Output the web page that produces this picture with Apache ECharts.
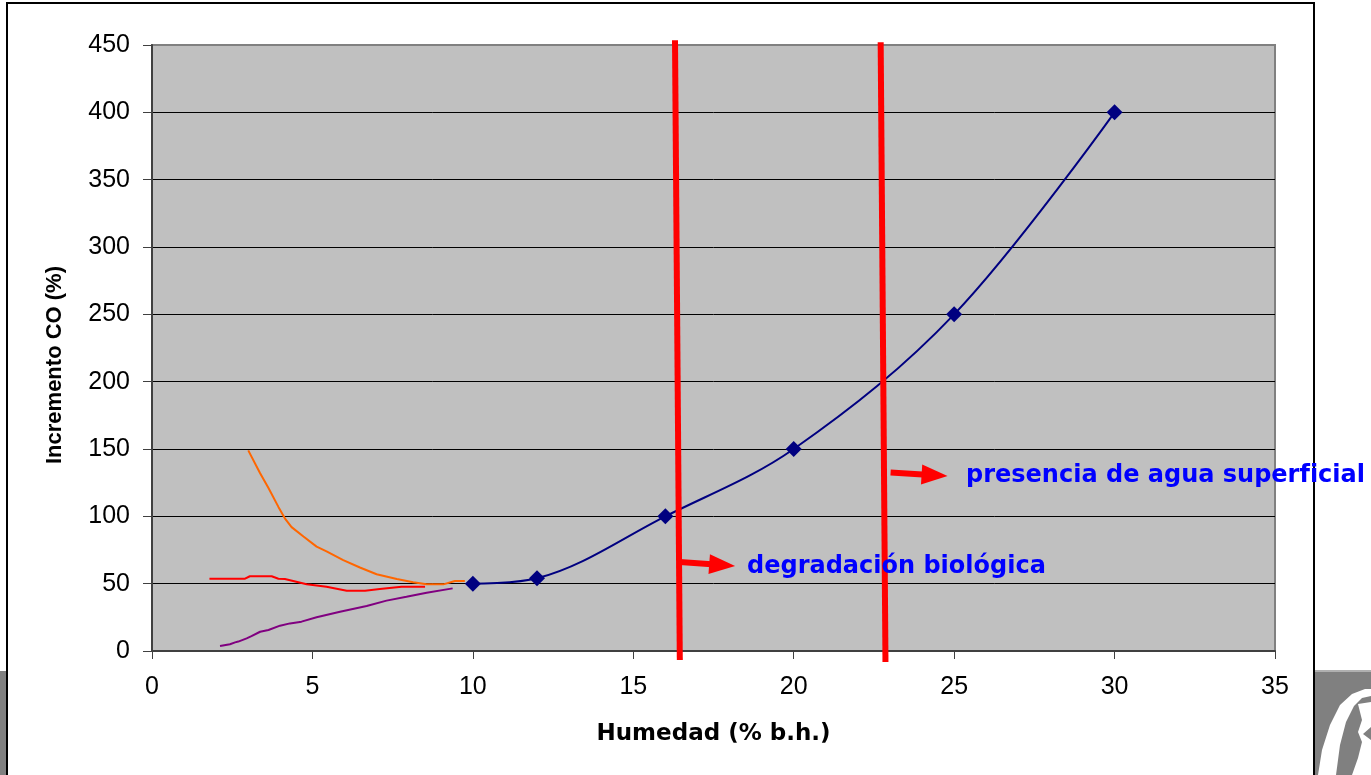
<!DOCTYPE html>
<html lang="es">
<head>
<meta charset="UTF-8">
<title>Incremento CO vs Humedad</title>
<style>
  html, body { margin: 0; padding: 0; background: #fff; }
  #main { width: 1371px; height: 775px; }
</style>
</head>
<body>
<div id="main"></div>
<script src="https://cdn.jsdelivr.net/npm/echarts@6/dist/echarts.min.js"></script>
<script>
// serie principal (puntos medidos)
var humedad = [10, 12, 16, 20, 25, 30];
var incremento = [50, 54, 100, 150, 250, 400];

// curvas de baja humedad
var naranja = [[3.0,149],[3.37,132],[3.63,121],[3.94,107],[4.14,98.5],[4.35,92],[4.72,85],[5.13,77.5],[5.44,74],[5.96,67.5],[6.48,62],[7.0,57],[7.63,53.5],[8.14,51],[8.56,49.5],[9.08,49.5],[9.44,52],[9.75,52]];
var rojo = [[1.79,53.7],[2.9,53.7],[3.05,55.5],[3.73,55.5],[3.94,53.7],[4.14,53.5],[4.82,49.5],[5.44,47.7],[6.07,44.8],[6.64,44.8],[7.1,46],[7.78,47.7],[8.51,47.7]];
var morado = [[2.12,3.7],[2.43,5],[2.59,6.4],[2.69,7],[2.95,9.4],[3.1,11],[3.37,14.3],[3.63,15.6],[3.99,18.8],[4.3,20.5],[4.66,21.8],[5.13,25],[5.86,29.2],[6.69,33.4],[7.31,37.4],[7.93,40.3],[8.56,43.3],[9.37,46.5]];

// limites marcados a mano
var limite1 = [[16.30,453.6],[16.45,-6.7]];
var limite2 = [[22.71,452.1],[22.86,-8.2]];
var flecha1 = [[16.45,66.1],[17.77,63.8]];
var flecha2 = [[23.02,132.6],[24.39,130.5]];

var yTicks = ['#000','#000','#000','#000','#000','#000','#000','#000','#000','#808080'];

var myChart = echarts.init(document.getElementById('main'));

myChart.setOption({
    animation: false,
    backgroundColor: '#fff',
    grid: {
        left: 152, right: 96, top: 45, bottom: 124,
        show: true,
        backgroundColor: '#C0C0C0',
        borderColor: '#808080',
        borderWidth: 2
    },
    xAxis: {
        type: 'value',
        min: 0, max: 35, interval: 5,
        name: 'Humedad (% b.h.)',
        nameLocation: 'middle',
        nameGap: 72,
        nameTextStyle: { fontFamily: 'DejaVu Sans', fontWeight: 'bold', fontSize: 23, color: '#000' },
        axisLine: { lineStyle: { color: '#404040', width: 2 } },
        axisTick: { length: 8, lineStyle: { color: '#404040', width: 1 } },
        axisLabel: { fontFamily: 'Liberation Sans', fontSize: 25, color: '#000', margin: 24 },
        splitLine: { show: false }
    },
    yAxis: {
        type: 'value',
        min: 0, max: 450, interval: 50,
        axisLine: { show: true, lineStyle: { color: '#404040', width: 2 } },
        axisTick: { show: true, length: 9, lineStyle: { color: '#404040', width: 1 } },
        axisLabel: { fontFamily: 'Liberation Sans', fontSize: 25, color: '#000', margin: 22 },
        splitLine: { show: true, lineStyle: { color: yTicks, width: 1 } }
    },
    graphic: [
        { type: 'rect', z: 100, shape: { x: 0, y: 671, width: 7, height: 104 }, style: { fill: '#808080' } },
        { type: 'rect', z: 100, shape: { x: 1315, y: 671, width: 56, height: 104 }, style: { fill: '#808080' } },
        { type: 'line', z: 100, shape: { x1: 1315, y1: 671, x2: 1371, y2: 671 }, style: { stroke: '#b0b0b0', lineWidth: 2 } },
        // logo (aprox.)
        { type: 'polygon', z: 101,
          shape: { points: [[1318,775],[1322,750],[1330,725],[1340,705],[1352,694],[1365,689],[1371,689],[1371,696],[1362,698],[1354,706],[1346,722],[1340,745],[1336,775]] },
          style: { fill: '#fff' } },
        { type: 'polygon', z: 101,
          shape: { points: [[1358,704],[1371,702],[1371,727],[1363,734],[1371,740],[1371,775],[1352,775],[1358,758],[1362,742],[1358,732],[1362,720]] },
          style: { fill: '#fff' } },
        { type: 'rect', z: 102, shape: { x: 7, y: 3, width: 1307, height: 800 },
          style: { fill: 'none', stroke: '#000', lineWidth: 2 } },
        { type: 'text', z: 110, x: 55, y: 365, rotation: Math.PI / 2,
          style: { text: 'Incremento CO (%)', fill: '#000', font: 'bold 22px "Liberation Sans"', align: 'center', verticalAlign: 'middle' } },
        { type: 'text', z: 110, x: 747, y: 567,
          style: { text: 'degradación biológica', fill: '#0000FF', font: 'bold 24px "DejaVu Sans"', verticalAlign: 'middle' } },
        { type: 'text', z: 110, x: 966, y: 476,
          style: { text: 'presencia de agua superficial', fill: '#0000FF', font: 'bold 24px "DejaVu Sans"', verticalAlign: 'middle' } }
    ],
    series: [
        {
            name: 'naranja', type: 'line', data: naranja, showSymbol: false,
            lineStyle: { color: '#FF6600', width: 2 }, itemStyle: { color: '#FF6600' }
        },
        {
            name: 'rojo', type: 'line', data: rojo, showSymbol: false,
            lineStyle: { color: '#FF0000', width: 2 }, itemStyle: { color: '#FF0000' }
        },
        {
            name: 'morado', type: 'line', data: morado, showSymbol: false,
            lineStyle: { color: '#800080', width: 2 }, itemStyle: { color: '#800080' }
        },
        {
            name: 'CO', type: 'line',
            data: humedad.map(function (h, i) { return [h, incremento[i]]; }),
            smooth: 0.35,
            symbol: 'diamond', symbolSize: 16,
            lineStyle: { color: '#000080', width: 2 },
            itemStyle: { color: '#000080' },
            z: 5
        },
        {
            name: 'limite1', type: 'line', data: limite1, clip: false, showSymbol: false,
            lineStyle: { color: '#FF0000', width: 6 }, z: 6
        },
        {
            name: 'limite2', type: 'line', data: limite2, clip: false, showSymbol: false,
            lineStyle: { color: '#FF0000', width: 6 }, z: 6,
            markLine: {
                silent: true,
                symbol: ['none', 'triangle'],
                symbolSize: [20, 26],
                label: { show: false },
                lineStyle: { color: '#FF0000', width: 6, type: 'solid' },
                itemStyle: { color: '#FF0000' },
                data: [
                    [{ coord: flecha1[0] }, { coord: flecha1[1] }],
                    [{ coord: flecha2[0] }, { coord: flecha2[1] }]
                ]
            }
        }
    ]
});
</script>
</body>
</html>
